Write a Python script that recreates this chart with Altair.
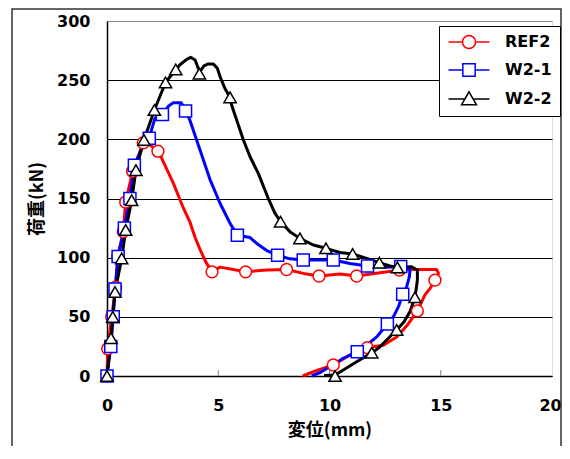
import altair as alt
import pandas as pd

series_names = ["REF2", "W2-1", "W2-2"]
series_colors = ["#FF0000", "#0000FF", "#000000"]
series_widths = [3, 3, 2.5]
series_shapes = ["circle", "square", "triangle-up"]
marker_sizes = [140, 150, 150]

# legend symbols: line segment + open marker
legend_paths = [
    "M-3.15,0H-1M1,0H3.15M1,0A1,1 0 1,1 -1,0A1,1 0 1,1 1,0Z",
    "M-3.15,0H-0.95M0.95,0H3.15M-0.95,-0.95H0.95V0.95H-0.95Z",
    "M-3.15,0H-0.6M0.6,0H3.15M0,-1.1L1.15,0.9L-1.15,0.9Z",
]

x_ticks = [0, 5, 10, 15, 20]
y_ticks = [0, 50, 100, 150, 200, 250, 300]
x_inner_ticks = [5, 10, 15]

# ---- REF2 ----
ref2_line_x = [0, 0.03, 0.21, 0.39, 0.48, 0.73, 0.84, 1.15, 1.45, 1.63, 1.71, 1.95, 2.29, 2.46,
               2.98, 3.43, 3.73, 3.96, 4.18, 4.45, 4.72, 5.08, 5.68, 6.23, 7.18, 8.07, 8.83,
               9.53, 10.47, 11.22, 12.27, 12.94, 13.14, 13.77, 14.81, 14.9, 14.74, 14.52,
               14.29, 13.95, 13.5, 13.02, 12.42, 11.7, 10.92, 10.17, 9.27, 8.8]
ref2_line_y = [0, 23, 50, 75, 101, 122, 147, 173, 188, 197, 199, 195, 190, 184,
               163, 142, 130, 117, 107, 96, 88, 92, 90, 88, 89.6, 90, 86.7,
               84.5, 86.2, 84.5, 87.3, 89, 89.6, 90.1, 90.1, 86.7, 81, 74,
               68.5, 55, 43, 33, 26, 24, 17.7, 9.3, 3.6, 0]
ref2_mark_x = [0.03, 0.21, 0.39, 0.48, 0.73, 0.84, 1.15, 1.63, 2.29, 4.72, 6.23, 8.07,
               9.53, 11.22, 13.14, 14.74, 13.95, 11.7, 10.17]
ref2_mark_y = [23, 50, 75, 101, 122, 147, 173, 197, 190, 88, 88, 90,
               84.5, 84.5, 89.6, 81, 55, 24, 9.3]

# ---- W2-1 ----
w21_line_x = [0, 0.17, 0.28, 0.36, 0.5, 0.78, 1.03, 1.23, 1.55, 1.9, 2.0, 2.16, 2.49, 2.76,
              2.98, 3.33, 3.43, 3.53, 3.73, 4.18, 4.63, 5.08, 5.53, 5.86, 6.43, 6.73, 7.18,
              7.67, 8.22, 8.82, 9.57, 10.17, 10.92, 11.71, 12.57, 13.2, 13.62, 13.59, 13.47,
              13.29, 13.1, 12.87, 12.6, 12.12, 11.67, 11.25, 10.62, 10.02, 9.57, 9.2]
w21_line_y = [0, 25, 50, 73.5, 101, 125, 150, 178, 192, 201, 208, 218, 221, 228,
              231, 231, 228, 224, 216, 191, 166, 146, 129, 119, 117, 112, 106,
              102, 99, 98, 98, 98, 95, 93, 92, 92.5, 90, 84, 75.5,
              69, 58.6, 50, 44, 33, 26, 20.5, 15, 8, 2.8, 0]
w21_mark_x = [0, 0.17, 0.28, 0.36, 0.5, 0.78, 1.03, 1.23, 1.9, 2.49, 3.53, 5.86, 7.67,
              8.82, 10.17, 11.71, 13.2, 13.29, 12.6, 11.25]
w21_mark_y = [0, 25, 50, 73.5, 101, 125, 150, 178, 201, 221, 224, 119, 102,
              98, 98, 93, 92.5, 69, 44, 20.5]

# ---- W2-2 ----
w22_line_x = [0, 0.18, 0.26, 0.36, 0.66, 0.84, 1.11, 1.3, 1.66, 2.13, 2.63, 3.09, 3.28, 3.58,
              3.76, 3.96, 4.1, 4.18, 4.36, 4.55, 4.78, 4.96, 5.08, 5.3, 5.53, 5.6, 6.13,
              6.43, 6.8, 7.25, 7.55, 7.8, 8.22, 8.67, 9.27, 9.84, 10.47, 11.04, 11.67,
              12.24, 12.72, 13.05, 13.69, 13.95, 13.95, 13.89, 13.84, 13.62, 13.35, 13.02,
              12.57, 12.19, 11.9, 11.22, 10.62, 10.25, 9.75]
w22_line_y = [0, 32, 50, 71, 99.4, 123.4, 148.5, 174, 199.5, 224.8, 248, 259, 263, 267.6,
              269.3, 267, 260, 257.5, 262, 263.7, 263.7, 260, 253, 243, 235.5, 229, 199.4,
              185.3, 171.2, 150, 137.5, 130.4, 122, 116.3, 110.7, 107.9, 104.4, 103.1, 99.4,
              95.8, 93, 91.8, 92.3, 89.6, 81, 72.7, 66.5, 54.4, 45.9, 38.9,
              30.4, 23.4, 19.7, 12.1, 5.1, 0.8, 0.5]
w22_mark_x = [0, 0.18, 0.26, 0.36, 0.66, 0.84, 1.11, 1.3, 1.66, 2.13, 2.63, 3.09, 4.15, 5.53,
              7.8, 8.67, 9.84, 11.04, 12.24, 13.05, 13.84, 13.02, 11.9, 10.25]
w22_mark_y = [0, 32, 50, 71, 99.4, 123.4, 148.5, 174, 199.5, 224.8, 248, 259, 255.5, 235.5,
              130.4, 116.3, 107.9, 103.1, 95.8, 91.8, 66.5, 38.9, 19.7, 0]

line_sets = [(ref2_line_x, ref2_line_y), (w21_line_x, w21_line_y), (w22_line_x, w22_line_y)]
mark_sets = [(ref2_mark_x, ref2_mark_y), (w21_mark_x, w21_mark_y), (w22_mark_x, w22_mark_y)]

line_rows, mark_rows = [], []
for name, (xs, ys) in zip(series_names, line_sets):
    for i, (a, b) in enumerate(zip(xs, ys)):
        line_rows.append({"series": name, "x": a, "y": b, "i": i})
for name, (xs, ys) in zip(series_names, mark_sets):
    for a, b in zip(xs, ys):
        mark_rows.append({"series": name, "x": a, "y": b})
line_df = pd.DataFrame(line_rows)
mark_df = pd.DataFrame(mark_rows)

W, H = 445, 355
num_font = "DejaVu Sans"
jp_font = "Noto Sans CJK JP"

x_enc = alt.X("x:Q", scale=alt.Scale(domain=[0, 20], nice=False),
              axis=alt.Axis(values=x_ticks, title="変位(mm)", grid=False, ticks=False,
                            tickSize=0, labelPadding=21, labelFlush=False,
                            labelOffset=alt.condition("datum.value == 20", alt.value(-2), alt.value(0)),
                            labelFont=num_font, labelFontSize=16, labelFontWeight="bold",
                            labelColor="black", titleFont=jp_font, titleFontSize=18,
                            titleFontWeight="bold", titleColor="black", titlePadding=8,
                            domainColor="black", domainWidth=1.5, format="d"))
y_enc = alt.Y("y:Q", scale=alt.Scale(domain=[0, 300], nice=False),
              axis=alt.Axis(values=y_ticks, title="荷重(kN)", grid=True,
                            gridColor=alt.condition("datum.value == 300", alt.value("#8c8c8c"), alt.value("#000000")),
                            gridWidth=1, ticks=False, tickSize=0, labelPadding=17,
                            labelFont=num_font, labelFontSize=16, labelFontWeight="bold",
                            labelColor="black", titleFont=jp_font, titleFontSize=18,
                            titleFontWeight="bold", titleColor="black", titlePadding=10,
                            domainColor="black", domainWidth=1.5, format="d"))

stroke_scale = alt.Scale(domain=series_names, range=series_colors)

lines = alt.Chart(line_df).mark_line(strokeJoin="round").encode(
    x=x_enc, y=y_enc,
    stroke=alt.Stroke("series:N", scale=stroke_scale, legend=None),
    strokeWidth=alt.StrokeWidth("series:N", scale=alt.Scale(domain=series_names, range=series_widths), legend=None),
    order=alt.Order("i:Q"),
)

markers = alt.Chart(mark_df).mark_point(filled=True, fill="white", strokeWidth=1.5, opacity=1).encode(
    x="x:Q", y="y:Q",
    stroke=alt.Stroke("series:N", scale=stroke_scale, legend=None),
    shape=alt.Shape("series:N", scale=alt.Scale(domain=series_names, range=series_shapes), legend=None),
    size=alt.Size("series:N", scale=alt.Scale(domain=series_names, range=marker_sizes), legend=None),
)

legend_props = dict(title=None, orient="none", legendX=332, legendY=5,
                    symbolSize=169, symbolStrokeWidth=1.5,
                    symbolFillColor="white", symbolOffset=14,
                    labelOffset=28, labelFont=num_font, labelFontSize=16,
                    labelFontWeight="bold", labelColor="black",
                    rowPadding=8, padding=8, strokeColor="black",
                    fillColor="white", labelLimit=200)

legend_layer = alt.Chart(mark_df).transform_filter("false").mark_point(
    filled=True, fill="white", strokeWidth=1.5, opacity=1).encode(
    x="x:Q", y="y:Q",
    stroke=alt.Stroke("series:N", scale=stroke_scale, legend=alt.Legend(**legend_props)),
    shape=alt.Shape("series:N", scale=alt.Scale(domain=series_names, range=legend_paths),
                    legend=alt.Legend(**legend_props)),
)

inner_ticks = alt.Chart(pd.DataFrame({"t": x_inner_ticks})).mark_rule(
    color="#808080", strokeWidth=1).encode(
    x="t:Q", y=alt.value(H), y2=alt.value(H - 6))

frame = alt.Chart(pd.DataFrame({"a": [1]})).mark_rect(
    fill="transparent", stroke="#333333", strokeWidth=1.5).encode(
    x=alt.value(-95), x2=alt.value(454), y=alt.value(-12), y2=alt.value(440))

chart = alt.layer(inner_ticks, lines, markers, legend_layer, frame).resolve_scale(
    stroke="independent", shape="independent", size="independent", strokeWidth="independent"
).properties(
    width=W, height=H,
    autosize=alt.AutoSizeParams(type="none"),
    padding={"left": 99, "top": 13, "right": 10, "bottom": 70},
).configure_view(stroke="#8c8c8c", strokeWidth=1).configure(background="white")

chart.save("out.html", embed_options={"renderer": "svg", "actions": False})
